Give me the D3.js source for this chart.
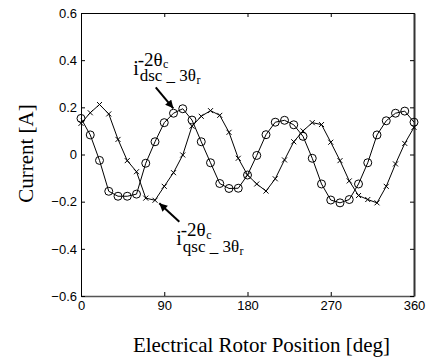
<!DOCTYPE html>
<html><head><meta charset="utf-8">
<script src="https://cdn.jsdelivr.net/npm/d3@7"></script>
<style>
html,body{margin:0;padding:0;background:#fff;}
svg{display:block;}
</style></head>
<body>
<svg id="chart" width="428" height="358"></svg>
<script>
// ---- data ----
const angles = [0,10,20,30,40,50,60,70,80,90,100,110,120,130,140,150,160,170,180,190,200,210,220,230,240,250,260,270,280,290,300,310,320,330,340,350,360];
const idsc = [0.153,0.083,-0.025,-0.156,-0.177,-0.177,-0.168,-0.037,0.054,0.135,0.175,0.194,0.146,0.054,-0.035,-0.123,-0.144,-0.143,-0.087,-0.004,0.084,0.137,0.145,0.126,0.077,-0.016,-0.125,-0.193,-0.205,-0.191,-0.125,-0.035,0.083,0.143,0.175,0.184,0.137];
const iqsc = [0.132,0.177,0.212,0.172,0.064,-0.026,-0.073,-0.185,-0.194,-0.135,-0.077,-0.002,0.120,0.162,0.186,0.166,0.094,-0.016,-0.087,-0.125,-0.155,-0.103,-0.023,0.054,0.100,0.135,0.127,0.052,-0.026,-0.112,-0.174,-0.191,-0.205,-0.135,-0.040,0.047,0.115];
const xTicks = [0,90,180,270,360];
const yTicks = [-0.6,-0.4,-0.2,0,0.2,0.4,0.6];
const xLabel = "Electrical Rotor Position [deg]";
const yLabel = "Current [A]";

// ---- layout ----
const svg = d3.select("#chart");
const L = 81, R = 414, T = 13, B = 296;
const x = d3.scaleLinear().domain([0,360]).range([L,R]);
const y = d3.scaleLinear().domain([-0.6,0.6]).range([B,T]);

const tickFont = "'Liberation Sans', Arial, sans-serif";
const serif = "'Liberation Serif', 'Times New Roman', serif";

// axes
const gB = svg.append("g").attr("transform",`translate(0,${B})`)
  .call(d3.axisBottom(x).tickValues(xTicks).tickFormat(d3.format("d")).tickSizeInner(-4).tickSizeOuter(0).tickPadding(5));
const gL = svg.append("g").attr("transform",`translate(${L},0)`)
  .call(d3.axisLeft(y).tickValues(yTicks).tickFormat(d => d===0 ? "0" : d3.format(".1f")(d)).tickSizeInner(-4).tickSizeOuter(0).tickPadding(4));
const gT = svg.append("g").attr("transform",`translate(0,${T})`)
  .call(d3.axisTop(x).tickValues(xTicks).tickFormat("").tickSizeInner(-4).tickSizeOuter(0));
const gR = svg.append("g").attr("transform",`translate(${R},0)`)
  .call(d3.axisRight(y).tickValues(yTicks).tickFormat("").tickSizeInner(-4).tickSizeOuter(0));

[gB,gL,gT,gR].forEach(g=>{
  g.selectAll("text").attr("font-family",tickFont).attr("font-size",13).attr("fill","#000");
  g.selectAll("line").attr("stroke","#000");
  g.select(".domain").attr("stroke","#000");
});
gB.select(".domain").attr("stroke","#555").attr("stroke-width",1.5);
gR.select(".domain").attr("stroke","#333").attr("stroke-width",2);

// axis labels
svg.append("text").attr("x",(L+R)/2+14).attr("y",352)
  .attr("text-anchor","middle").attr("font-family",serif).attr("font-size",21).text(xLabel);
svg.append("text").attr("transform",`translate(33,${y(0)-1}) rotate(-90)`)
  .attr("text-anchor","middle").attr("font-family",serif).attr("font-size",21).text(yLabel);

// lines
const line = d3.line().x(d=>x(d[0])).y(d=>y(d[1]));
const dPts = angles.map((a,i)=>[a,idsc[i]]);
const qPts = angles.map((a,i)=>[a,iqsc[i]]);
const plot = svg.append("g");
plot.append("path").datum(dPts).attr("d",line).attr("fill","none").attr("stroke","#000").attr("stroke-width",1);
plot.append("path").datum(qPts).attr("d",line).attr("fill","none").attr("stroke","#000").attr("stroke-width",1);

// circle markers
plot.selectAll("circle.m").data(dPts).enter().append("circle").attr("class","m")
  .attr("cx",d=>x(d[0])).attr("cy",d=>y(d[1])).attr("r",4)
  .attr("fill","none").attr("stroke","#000").attr("stroke-width",1);
// cross markers
const cs = 2.5;
plot.selectAll("path.x").data(qPts).enter().append("path").attr("class","x")
  .attr("d",d=>{const px=x(d[0]),py=y(d[1]);return `M${px-cs},${py-cs}L${px+cs},${py+cs}M${px-cs},${py+cs}L${px+cs},${py-cs}`;})
  .attr("stroke","#000").attr("stroke-width",1);

// arrows
const defs = svg.append("defs");
defs.append("marker").attr("id","ah").attr("viewBox","0 0 10 10").attr("refX",10).attr("refY",5)
  .attr("markerWidth",9).attr("markerHeight",8).attr("markerUnits","userSpaceOnUse").attr("orient","auto")
  .append("path").attr("d","M0,0L10,5L0,10Z").attr("fill","#000");

const arrows = [
  {from:[80.8,0.285], to:[99.8,0.196]},
  {from:[106.3,-0.285], to:[84.6,-0.207]}
];
arrows.forEach(a=>{
  svg.append("line").attr("x1",x(a.from[0])).attr("y1",y(a.from[1]))
    .attr("x2",x(a.to[0])).attr("y2",y(a.to[1]))
    .attr("stroke","#000").attr("stroke-width",2).attr("marker-end","url(#ah)");
});

// labels (single text element each, with tspans for super/subscripts)
const labels = [
  {at:[56.4,0.338], sub:"dsc _ 3θ"},
  {at:[103.0,-0.384], sub:"qsc _ 3θ"}
];
labels.forEach(l=>{
  const px = x(l.at[0]), py = y(l.at[1]);
  const t = svg.append("text").attr("font-family",serif).attr("fill","#000");
  t.append("tspan").attr("x",px).attr("y",py).attr("font-size",20).text("i");
  t.append("tspan").attr("x",px+4.5).attr("y",py-9).attr("font-size",19).text("-2θ");
  t.append("tspan").attr("dx",0.5).attr("y",py-6.5).attr("font-size",12).text("c");
  t.append("tspan").attr("x",px+6.5).attr("y",py+6.5).attr("font-size",17).text(l.sub);
  t.append("tspan").attr("dx",0.5).attr("y",py+9.5).attr("font-size",12).text("r");
});
</script>
</body></html>
